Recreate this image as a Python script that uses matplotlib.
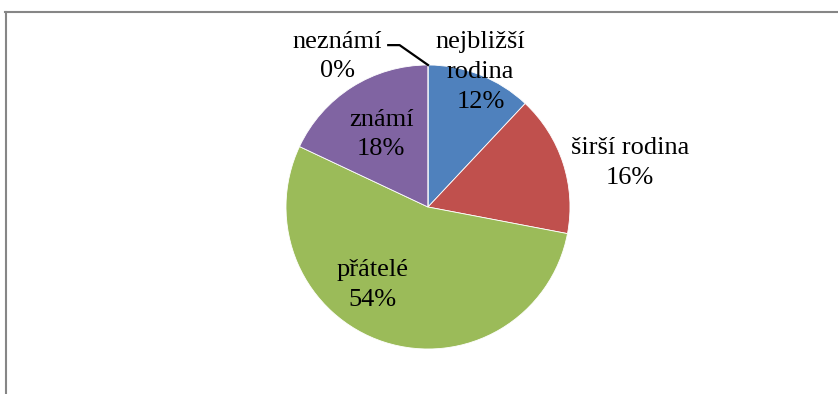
import matplotlib.pyplot as plt
from matplotlib.lines import Line2D

# shares of contacts by relationship
labels = ["nejbližší\nrodina", "širší rodina", "přátelé", "známí", "neznámí"]
values = [12, 16, 54, 18, 0]
colors = ["#4F81BD", "#C0504D", "#9BBB59", "#8064A2", "#4BACC6"]

# label centres in pie-radius units (x, y)
label_pos = [(0.37, 0.95), (1.42, 0.31), (-0.39, -0.55), (-0.33, 0.51), (-0.64, 1.06)]

plt.rcParams["font.family"] = ["Liberation Serif", "DejaVu Serif"]

W, H = 838, 394
fig = plt.figure(figsize=(W / 100, H / 100), dpi=100)

cx, cy, r = 428, 207, 142
ax = fig.add_axes([(cx - r) / W, (H - cy - r) / H, 2 * r / W, 2 * r / H])
ax.pie(values, colors=colors, startangle=90, counterclock=False, radius=1,
       wedgeprops=dict(edgecolor="white", linewidth=0.6))
ax.set_xlim(-1, 1)
ax.set_ylim(-1, 1)
ax.set_aspect("equal")
ax.axis("off")

for lab, v, (x, y) in zip(labels, values, label_pos):
    ax.text(x, y, f"{lab}\n{v}%", ha="center", va="center", fontsize=19,
            linespacing=1.45, clip_on=False)

# leader line for the empty slice
ax.add_line(Line2D([-0.28, -0.2, 0.0], [1.14, 1.14, 1.0], color="black",
                   linewidth=1.6, clip_on=False))

# chart area border
fig.add_artist(Line2D([5.5 / W, 5.5 / W], [0, 1 - 12 / H], color="#868686",
                      linewidth=1.5, transform=fig.transFigure))
fig.add_artist(Line2D([5 / W, 1], [1 - 12 / H, 1 - 12 / H], color="#868686",
                      linewidth=1.5, transform=fig.transFigure))

fig.savefig("out.png", dpi=100)
